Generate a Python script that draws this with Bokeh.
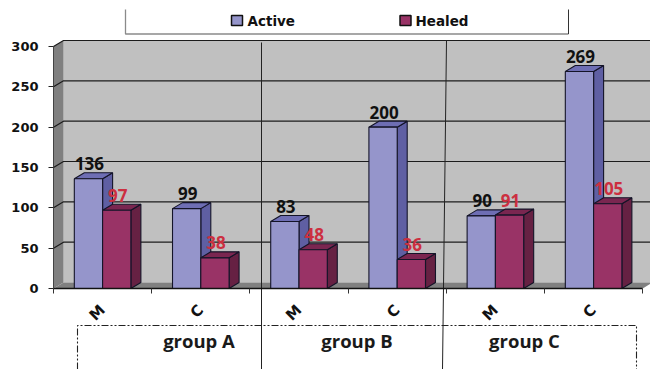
from math import pi

from bokeh.core.properties import value
from bokeh.embed import file_html
from bokeh.models import FixedTicker, LinearAxis
from bokeh.plotting import figure
from bokeh.resources import INLINE

# Ulcer counts per treatment arm
groups = ["group A", "group B", "group C"]
categories = ["M", "C", "M", "C", "M", "C"]
active = [136, 99, 83, 200, 90, 269]
healed = [97, 38, 48, 36, 91, 105]
y_ticks = [0, 50, 100, 150, 200, 250, 300]

W, H = 650, 369
X0_PX, Y0_PX = 53.0, 288.0   # where the chart origin sits on the canvas
CAT_PX, UNIT_PX = 98.2, 0.8067   # pixels per category, pixels per count
BAR = 0.288                  # bar width in categories
DX, DY = 10 / CAT_PX, 6 / UNIT_PX   # 3-D depth offset in data units


def px(x):
    return (x - X0_PX) / CAT_PX


def py(y):
    return (Y0_PX - y) / UNIT_PX


p = figure(width=W, height=H, output_backend="svg", toolbar_location=None,
           x_range=(px(0), px(W)), y_range=(py(H), py(0)),
           x_axis_location=None, y_axis_location=None,
           min_border=0, outline_line_color=None)
p.grid.visible = False
p.background_fill_color = "white"

# Chart box: back wall, side wall, floor
top = y_ticks[-1]
right = len(categories)
p.patch([DX, right + DX, right + DX, DX], [DY, DY, top + DY, top + DY],
        fill_color="#C0C0C0", line_color=None)
p.patch([0, DX, DX, 0], [0, DY, top + DY, top], fill_color="#808080", line_color=None)
p.patch([0, DX, right + DX, right], [0, DY, DY, 0], fill_color="#808080", line_color=None)

# Gridlines run along the back wall and down the side wall
for t in y_ticks[1:]:
    p.line([0, DX, right + DX], [t, t + DY, t + DY], line_color="#1c1c1c", line_width=1.2)


def draw_bar(x, v, front, side, cap):
    x2 = x + BAR
    p.patch([x2, x2 + DX, x2 + DX, x2], [0, DY, v + DY, v],
            fill_color=side, line_color="#141428", line_width=1.1)
    p.patch([x, x + DX, x2 + DX, x2], [v, v + DY, v + DY, v],
            fill_color=cap, line_color="#141428", line_width=1.1)
    p.patch([x, x2, x2, x], [0, 0, v, v],
            fill_color=front, line_color="#141428", line_width=1.1)


for i, (a, h) in enumerate(zip(active, healed)):
    c = i + 0.5
    draw_bar(c - BAR, a, "#9595CB", "#5F5FA3", "#6E6EB4")
    draw_bar(c, h, "#993366", "#662143", "#7A2650")

# Value labels
centers = [i + 0.5 for i in range(len(categories))]
p.text([c - BAR / 2 for c in centers], active, text=[str(v) for v in active],
       text_font=value("Open Sans"), text_font_style="bold", text_font_size="17px",
       text_color="#111111", text_align="center", text_baseline="middle",
       x_offset=1, y_offset=-15)
p.text([c + BAR / 2 for c in centers], healed, text=[str(v) for v in healed],
       text_font=value("Open Sans"), text_font_style="bold", text_font_size="17px",
       text_color="#CC2F40", text_align="center", text_baseline="middle",
       x_offset=1, y_offset=-15)

# Axes sit inside the canvas at the chart origin
yax = LinearAxis(fixed_location=0, ticker=FixedTicker(ticks=y_ticks), bounds=(0, top))
yax.major_tick_out = 5
yax.major_tick_in = 0
yax.minor_tick_line_color = None
yax.axis_line_color = "#444444"
yax.major_tick_line_color = "#222222"
yax.major_label_standoff = 10
yax.major_label_text_font = "DejaVu Sans"
yax.major_label_text_font_style = "bold"
yax.major_label_text_font_size = "13px"
yax.major_label_text_color = "#111111"
p.add_layout(yax, "left")

xax = LinearAxis(fixed_location=0, bounds=(0, right),
                 ticker=FixedTicker(ticks=centers, minor_ticks=list(range(right + 1))))
xax.major_label_overrides = {c: n for c, n in zip(centers, categories)}
xax.major_tick_out = 0
xax.major_tick_in = 0
xax.minor_tick_out = 5
xax.minor_tick_in = 0
xax.minor_tick_line_color = "#333333"
xax.axis_line_color = "#111111"
xax.axis_line_width = 1.3
xax.major_label_orientation = pi / 4
xax.major_label_standoff = 14
xax.major_label_text_font = "DejaVu Sans"
xax.major_label_text_font_style = "bold"
xax.major_label_text_font_size = "15px"
xax.major_label_text_color = "#111111"
p.add_layout(xax, "below")

# Group dividers
p.line([px(261), px(261)], [py(42), py(369)], line_color="#222222", line_width=1)
p.line([px(446), px(442)], [py(40), py(369)], line_color="#222222", line_width=1)

# Dash-dot bracket holding the group names
p.line([px(77), px(77), px(636), px(636)], [py(369), py(325), py(325), py(369)],
       line_color="#222222", line_width=1.1, line_dash="7 2 2 2 2 2")
p.text([px(198.5), px(356.5), px(524)], [py(340)] * 3, text=groups,
       text_font=value("Open Sans"), text_font_style="bold", text_font_size="18.5px",
       text_color="#1a1a1a", text_align="center", text_baseline="middle")

# Legend strip along the top
p.line([px(125), px(125), px(568)], [py(9), py(33.5), py(33.5)],
       line_color="#8a8a8a", line_width=1.3)
p.line([px(568), px(568)], [py(9), py(33.5)], line_color="#333333", line_width=1)
legend_names = ["Active", "Healed"]
legend_colors = ["#9595CB", "#993366"]
for name, color, sx, tx in zip(legend_names, legend_colors, [231, 399.5], [247, 415]):
    p.patch([px(sx), px(sx + 11), px(sx + 11), px(sx)], [py(15), py(15), py(25), py(25)],
            fill_color=color, line_color="#111111", line_width=1.5)
    p.text([px(tx)], [py(20)], text=[name], text_font=value("DejaVu Sans"),
           text_font_style="bold", text_font_size="13.5px", text_color="#111111",
           text_align="left", text_baseline="middle")

open("out.html", "w").write(file_html(p, INLINE))
